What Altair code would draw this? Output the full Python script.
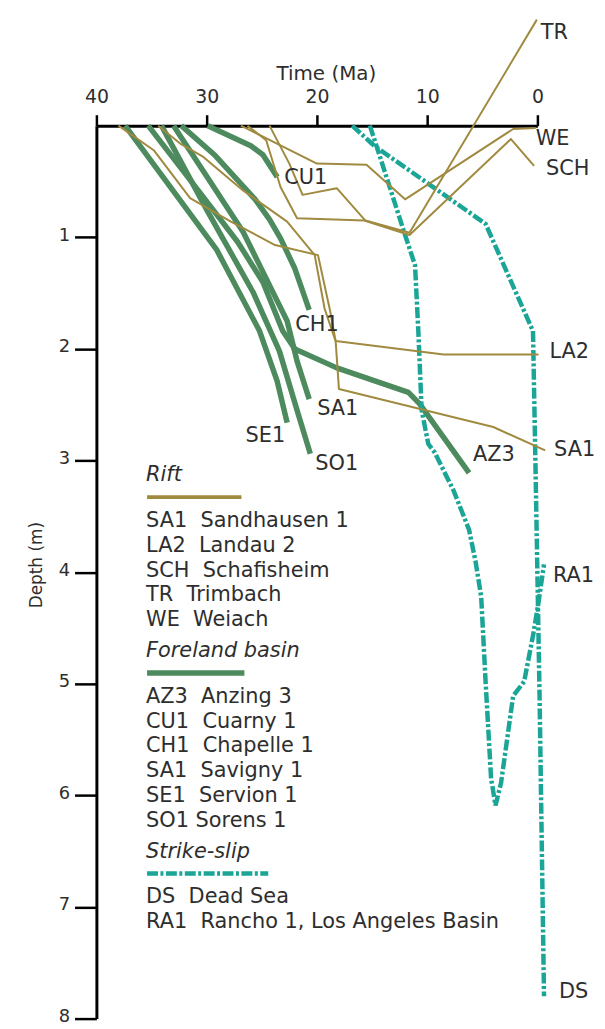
import altair as alt
import pandas as pd

# ---------------- data (time in Ma, depth in km as labelled "m") ----------------
# Rift wells
rift_SA1_t = [34.4, 32.4, 30.3, 26.7, 22.7, 20.2, 19.3, 18.3, 18.0, 4.0, -0.7]
rift_SA1_d = [0.0, 0.16, 0.28, 0.58, 0.86, 1.16, 1.64, 1.93, 2.36, 2.70, 2.91]
rift_LA2_t = [38.0, 34.8, 31.5, 27.8, 23.8, 19.9, 18.8, 18.3, 8.5, -0.1]
rift_LA2_d = [0.0, 0.22, 0.65, 0.86, 1.07, 1.16, 1.66, 1.93, 2.05, 2.05]
rift_SCH_t = [26.3, 24.6, 23.3, 21.8, 15.7, 11.6, 2.4, 0.3]
rift_SCH_d = [0.0, 0.13, 0.55, 0.83, 0.85, 0.98, 0.12, 0.36]
rift_TR_t = [24.3, 22.5, 21.3, 18.2, 15.6, 11.6, 0.05]
rift_TR_d = [0.0, 0.34, 0.62, 0.56, 0.85, 0.96, -0.95]
rift_WE_t = [26.9, 20.0, 15.5, 12.0, 2.2, 0.15]
rift_WE_d = [0.0, 0.34, 0.35, 0.66, 0.03, 0.02]

# Foreland basin wells
fore_AZ3_t = [35.3, 30.3, 27.2, 24.9, 23.1, 22.0, 18.2, 11.7, 10.7, 6.2]
fore_AZ3_d = [0.0, 0.64, 1.04, 1.40, 1.84, 2.00, 2.17, 2.39, 2.49, 3.11]
fore_CU1_t = [29.9, 26.0, 24.9, 23.6]
fore_CU1_d = [0.0, 0.18, 0.26, 0.46]
fore_CH1_t = [32.3, 29.2, 25.6, 24.3, 23.3, 22.0, 20.7]
fore_CH1_d = [0.0, 0.27, 0.66, 0.84, 1.01, 1.28, 1.65]
fore_SA1_t = [33.0, 26.7, 24.9, 22.7, 21.8, 20.7]
fore_SA1_d = [0.0, 0.95, 1.31, 1.75, 2.11, 2.45]
fore_SE1_t = [37.4, 29.1, 25.2, 23.6, 22.7]
fore_SE1_d = [0.0, 1.11, 1.84, 2.29, 2.66]
fore_SO1_t = [34.1, 29.9, 25.8, 23.4, 21.8, 20.6]
fore_SO1_d = [0.0, 0.77, 1.49, 2.02, 2.55, 2.94]

# Strike-slip wells
ss_DS_t = [16.8, 14.8, 4.7, 0.4, 0.15, -0.2, -0.6]
ss_DS_d = [0.0, 0.18, 0.88, 1.84, 3.18, 5.13, 7.80]
ss_RA1_t = [15.2, 14.6, 12.1, 11.1, 10.8, 10.5, 9.9, 9.3, 7.6, 6.2, 5.6, 5.1,
            4.7, 4.2, 3.8, 3.3, 2.2, 1.2, 0.4, -0.1, -0.6]
ss_RA1_d = [0.0, 0.18, 0.95, 1.25, 1.84, 2.55, 2.85, 2.93, 3.27, 3.62, 3.91, 4.22,
            4.98, 5.85, 6.09, 5.89, 5.11, 4.98, 4.57, 4.27, 3.93]

x_ticks = [40, 30, 20, 10, 0]
y_ticks = [1, 2, 3, 4, 5, 6, 7, 8]

rift_legend = ["SA1\u00a0\u00a0Sandhausen 1", "LA2\u00a0\u00a0Landau 2", "SCH\u00a0\u00a0Schafisheim",
               "TR\u00a0\u00a0Trimbach", "WE\u00a0\u00a0Weiach"]
fore_legend = ["AZ3\u00a0\u00a0Anzing 3", "CU1\u00a0\u00a0Cuarny 1", "CH1\u00a0\u00a0Chapelle 1",
               "SA1\u00a0\u00a0Savigny 1", "SE1\u00a0\u00a0Servion 1", "SO1 Sorens 1"]
ss_legend = ["DS\u00a0\u00a0Dead Sea", "RA1\u00a0\u00a0Rancho 1, Los Angeles Basin"]
group_titles = ["Rift", "Foreland basin", "Strike-slip"]

wells = [
    ("rift", "SA1", rift_SA1_t, rift_SA1_d),
    ("rift", "LA2", rift_LA2_t, rift_LA2_d),
    ("rift", "SCH", rift_SCH_t, rift_SCH_d),
    ("rift", "TR", rift_TR_t, rift_TR_d),
    ("rift", "WE", rift_WE_t, rift_WE_d),
    ("fore", "AZ3", fore_AZ3_t, fore_AZ3_d),
    ("fore", "CU1", fore_CU1_t, fore_CU1_d),
    ("fore", "CH1", fore_CH1_t, fore_CH1_d),
    ("fore", "SA1", fore_SA1_t, fore_SA1_d),
    ("fore", "SE1", fore_SE1_t, fore_SE1_d),
    ("fore", "SO1", fore_SO1_t, fore_SO1_d),
    ("ss", "DS", ss_DS_t, ss_DS_d),
    ("ss", "RA1", ss_RA1_t, ss_RA1_d),
]

# ---------------- styling ----------------
W, H = 444, 899
FONT = "DejaVu Sans"
TXT = "#2e2e2e"
C_RIFT = "#a08a40"
C_FORE = "#4d8b5f"
C_SS = "#1aa596"
DASH = [11, 2.5, 3, 2.5]
LFS = 21  # legend / label font size

# label offsets in pixels (dx, dy, align) relative to the well's end point
label_off = {
    ("rift", "TR"): (4, 14, "left"),
    ("rift", "WE"): (0, 11, "left"),
    ("rift", "SCH"): (12, 3, "left"),
    ("rift", "LA2"): (11, -2, "left"),
    ("rift", "SA1"): (9, 0, "left"),
    ("fore", "CU1"): (7, 1, "left"),
    ("fore", "CH1"): (-14, 15, "left"),
    ("fore", "SA1"): (8, 10, "left"),
    ("fore", "SE1"): (-2, 14, "right"),
    ("fore", "SO1"): (5, 10, "left"),
    ("fore", "AZ3"): (4, -18, "left"),
    ("ss", "RA1"): (9, 12, "left"),
    ("ss", "DS"): (15, -4, "left"),
}

rows, lab_rows = [], []
for grp, code, ts, ds in wells:
    for i, (t, d) in enumerate(zip(ts, ds)):
        rows.append({"well": grp + "_" + code, "group": grp, "t": t, "d": d, "o": i})
    dx, dy, al = label_off[(grp, code)]
    lab_rows.append({"label": code, "t": ts[-1] - dx / (W / 40.0),
                     "d": ds[-1] + dy / (H / 8.0), "align": al})
df = pd.DataFrame(rows)
lab = pd.DataFrame(lab_rows)

xs = alt.Scale(domain=[0, 40], reverse=True, nice=False, zero=False)
ys = alt.Scale(domain=[0, 8], reverse=True, nice=False, zero=False)

x_axis = alt.Axis(orient="top", values=x_ticks, title="Time (Ma)", grid=False,
                  domainColor="black", domainWidth=3, tickColor="black", tickWidth=2.5,
                  tickSize=11, labelFontSize=19, labelFont=FONT, labelColor=TXT,
                  labelPadding=8, labelFlush=False, titleFont=FONT, titleFontSize=20,
                  titleFontWeight="normal", titleColor=TXT, titleX=231, titleY=-46,
                  titleBaseline="alphabetic", titleAlign="center", format="d")
y_axis = alt.Axis(orient="left", values=y_ticks, title="Depth (m)", grid=False,
                  domainColor="black", domainWidth=3, tickColor="black", tickWidth=2.5,
                  tickSize=22, labelFontSize=18, labelFont=FONT, labelColor=TXT,
                  labelPadding=5, labelFlush=False, labelOffset=-2,
                  titleFont=FONT, titleFontSize=17,
                  titleFontWeight="normal", titleColor=TXT, titleX=-51, titleY=442,
                  titleAngle=270, titleBaseline="bottom", titleAlign="center", format="d")

X = alt.X("t:Q", scale=xs, axis=x_axis)
Y = alt.Y("d:Q", scale=ys, axis=y_axis)

base = alt.Chart(df)
fore = base.transform_filter(alt.datum.group == "fore").mark_line(
    color=C_FORE, strokeWidth=5.5, strokeCap="butt", strokeJoin="round", clip=False
).encode(x=X, y=Y, detail="well:N", order="o:Q")
ss = base.transform_filter(alt.datum.group == "ss").mark_line(
    color=C_SS, strokeWidth=4.5, strokeDash=DASH, strokeCap="butt", clip=False
).encode(x=X, y=Y, detail="well:N", order="o:Q")
rift = base.transform_filter(alt.datum.group == "rift").mark_line(
    color=C_RIFT, strokeWidth=2, strokeJoin="round", clip=False
).encode(x=X, y=Y, detail="well:N", order="o:Q")

lab_left = alt.Chart(lab).transform_filter(alt.datum.align == "left").mark_text(
    align="left", baseline="middle", font=FONT, fontSize=LFS, color=TXT, clip=False
).encode(x=X, y=Y, text="label:N")
lab_right = alt.Chart(lab).transform_filter(alt.datum.align == "right").mark_text(
    align="right", baseline="middle", font=FONT, fontSize=LFS, color=TXT, clip=False
).encode(x=X, y=Y, text="label:N")

# ---------------- legend block (layout in pixels) ----------------
LX = 50
leg_rows, head_rows = [], []
y0 = 352
step = 25
blocks = [(group_titles[0], rift_legend, C_RIFT), (group_titles[1], fore_legend, C_FORE),
          (group_titles[2], ss_legend, C_SS)]
sample_lines = []
yy = y0
for title, items, col in blocks:
    head_rows.append({"text": title, "px": LX, "py": yy})
    sample_lines.append((yy + 22, col))
    yy += 46
    for it in items:
        leg_rows.append({"text": it, "px": LX, "py": yy})
        yy += step
    yy += 6
leg_df = pd.DataFrame(leg_rows)
head_df = pd.DataFrame(head_rows)

leg_text = alt.Chart(leg_df).mark_text(
    align="left", baseline="middle", font=FONT, fontSize=LFS, color=TXT
).encode(x=alt.X("px:Q", scale=None), y=alt.Y("py:Q", scale=None), text="text:N")
head_text = alt.Chart(head_df).mark_text(
    align="left", baseline="middle", font=FONT, fontSize=LFS, fontStyle="italic", color=TXT
).encode(x=alt.X("px:Q", scale=None), y=alt.Y("py:Q", scale=None), text="text:N")

sample_len = [95, 98, 122]
samples = []
for (sy, col), ln in zip(sample_lines, sample_len):
    kw = dict(color=col, strokeWidth=4 if col != C_FORE else 5.5, strokeCap="butt")
    if col == C_SS:
        kw["strokeDash"] = DASH
        kw["strokeWidth"] = 4.5
    samples.append(alt.Chart(pd.DataFrame({"a": [0]})).mark_rule(**kw).encode(
        x=alt.value(LX + 1), x2=alt.value(LX + 1 + ln), y=alt.value(sy)))

chart = alt.layer(fore, ss, rift, lab_left, lab_right, leg_text, head_text, *samples).properties(
    width=W, height=H,
    background="white",
    autosize=alt.AutoSizeParams(type="none"),
    padding={"left": 89, "top": 115, "right": 60, "bottom": 5},
).configure_view(strokeWidth=0, stroke="transparent")

chart.save("out.html", embed_options={"renderer": "svg", "actions": False})
